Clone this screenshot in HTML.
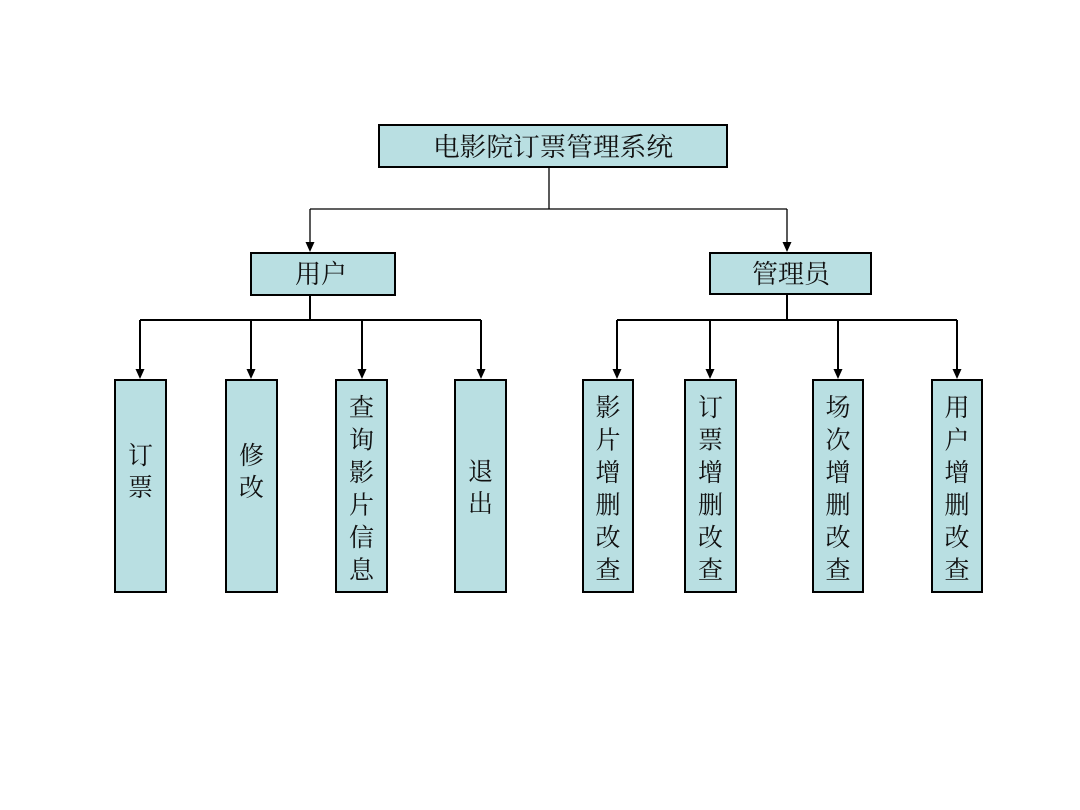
<!DOCTYPE html>
<html><head><meta charset="utf-8"><style>
html,body{margin:0;padding:0;background:#fff;}
svg{display:block;}
text{font-family:"Liberation Serif","Noto Serif CJK SC",serif;fill:#111;}
</style></head><body>
<svg width="1080" height="810" viewBox="0 0 1080 810" xmlns="http://www.w3.org/2000/svg">
<g fill="#b9dfe2" stroke="#000" stroke-width="2">
<rect x="379" y="125" width="348" height="42"/>
<rect x="251" y="253" width="144" height="42"/>
<rect x="710" y="253" width="161" height="41"/>
<rect x="115" y="380" width="51" height="212"/>
<rect x="226" y="380" width="51" height="212"/>
<rect x="336" y="380" width="51" height="212"/>
<rect x="455" y="380" width="51" height="212"/>
<rect x="583" y="380" width="50" height="212"/>
<rect x="685" y="380" width="51" height="212"/>
<rect x="813" y="380" width="50" height="212"/>
<rect x="932" y="380" width="50" height="212"/>
</g>
<g stroke="#000" fill="none">
<path d="M549,167 V209 M310,209 H787 M310,209 V245 M787,209 V245" stroke-width="1.3"/>
<path d="M310,295 V320 M140,320 H481 M787,294 V320 M617,320 H957" stroke-width="2"/>
<path d="M140,320 V372 M251,320 V372 M362,320 V372 M481,320 V372 M617,320 V372 M710,320 V372 M838,320 V372 M957,320 V372" stroke-width="2"/>
</g>
<g fill="#000">
<path d="M305.5,242 L314.5,242 L310,252 Z"/>
<path d="M782.5,242 L791.5,242 L787,252 Z"/>
<path d="M135.5,369 L144.5,369 L140,379 Z"/>
<path d="M246.5,369 L255.5,369 L251,379 Z"/>
<path d="M357.5,369 L366.5,369 L362,379 Z"/>
<path d="M476.5,369 L485.5,369 L481,379 Z"/>
<path d="M612.5,369 L621.5,369 L617,379 Z"/>
<path d="M705.5,369 L714.5,369 L710,379 Z"/>
<path d="M833.5,369 L842.5,369 L838,379 Z"/>
<path d="M952.5,369 L961.5,369 L957,379 Z"/>
</g>
<g font-size="26" text-anchor="middle">
<text x="553" y="156" textLength="240" lengthAdjust="spacingAndGlyphs">电影院订票管理系统</text>
<text x="321" y="283">用户</text>
<text x="791" y="283">管理员</text>
</g>
<g font-size="25" text-anchor="middle">
<text x="140.5"><tspan x="140.5" y="464">订</tspan><tspan x="140.5" y="496">票</tspan></text>
<text x="251.5"><tspan x="251.5" y="464">修</tspan><tspan x="251.5" y="496">改</tspan></text>
<text x="361.5"><tspan x="361.5" y="416">查</tspan><tspan x="361.5" y="448.5">询</tspan><tspan x="361.5" y="481">影</tspan><tspan x="361.5" y="513.5">片</tspan><tspan x="361.5" y="546">信</tspan><tspan x="361.5" y="578.5">息</tspan></text>
<text x="480.5"><tspan x="480.5" y="480">退</tspan><tspan x="480.5" y="512">出</tspan></text>
<text x="608"><tspan x="608" y="416">影</tspan><tspan x="608" y="448.5">片</tspan><tspan x="608" y="481">增</tspan><tspan x="608" y="513.5">删</tspan><tspan x="608" y="546">改</tspan><tspan x="608" y="578.5">查</tspan></text>
<text x="710.5"><tspan x="710.5" y="416">订</tspan><tspan x="710.5" y="448.5">票</tspan><tspan x="710.5" y="481">增</tspan><tspan x="710.5" y="513.5">删</tspan><tspan x="710.5" y="546">改</tspan><tspan x="710.5" y="578.5">查</tspan></text>
<text x="838"><tspan x="838" y="416">场</tspan><tspan x="838" y="448.5">次</tspan><tspan x="838" y="481">增</tspan><tspan x="838" y="513.5">删</tspan><tspan x="838" y="546">改</tspan><tspan x="838" y="578.5">查</tspan></text>
<text x="957"><tspan x="957" y="416">用</tspan><tspan x="957" y="448.5">户</tspan><tspan x="957" y="481">增</tspan><tspan x="957" y="513.5">删</tspan><tspan x="957" y="546">改</tspan><tspan x="957" y="578.5">查</tspan></text>
</g>
</svg>
</body></html>
